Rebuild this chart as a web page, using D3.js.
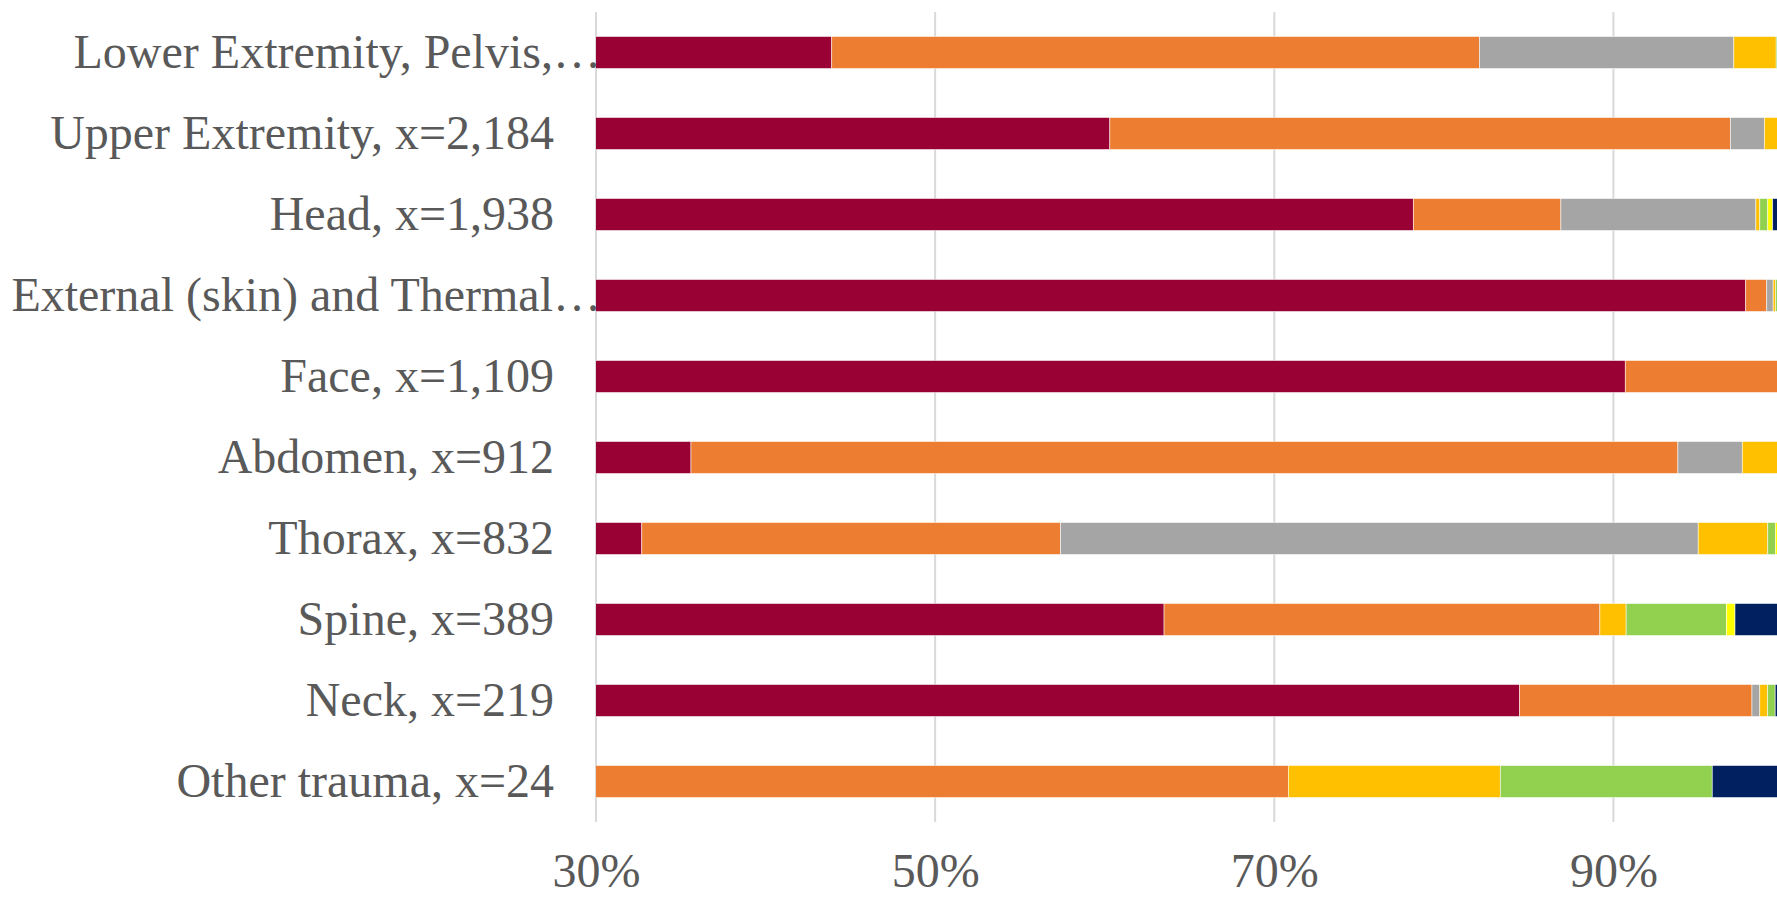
<!DOCTYPE html>
<html>
<head>
<meta charset="utf-8">
<script src="https://cdn.jsdelivr.net/npm/d3@7"></script>
<style>
  html, body { margin: 0; padding: 0; background: #fff; overflow: hidden; }
  svg { display: block; }
</style>
</head>
<body>
<svg id="chart" width="1777" height="898"></svg>
<script>
// ---- Data (percent shares per body region, stacked left to right) ----
const categories = [
  "Lower Extremity, Pelvis,\u2026",
  "Upper Extremity, x=2,184",
  "Head, x=1,938",
  "External (skin) and Thermal\u2026",
  "Face, x=1,109",
  "Abdomen, x=912",
  "Thorax, x=832",
  "Spine, x=389",
  "Neck, x=219",
  "Other trauma, x=24"
];
const seriesNames = ["Level 1", "Level 2", "Level 3", "Level 4", "Level 5", "Level 6", "Level 7"];
const level1 = [43.9, 60.3, 78.2, 97.8, 90.7, 35.6, 32.7, 63.5, 84.47, 0];
const level2 = [38.2, 36.6, 8.7, 1.24, 9.0, 58.2, 24.7, 25.7, 13.7, 70.83];
const level3 = [15.0, 2.0, 11.5, 0.38, 0.1, 3.8, 37.6, 0, 0.46, 0];
const level4 = [2.5, 0.9, 0.23, 0.15, 0.1, 2.1, 4.1, 1.55, 0.46, 12.5];
const level5 = [0.2, 0.1, 0.47, 0.25, 0.05, 0.2, 0.45, 5.91, 0.45, 12.5];
const level6 = [0.1, 0.05, 0.29, 0.08, 0.0, 0.05, 0.25, 0.51, 0, 0];
const level7 = [0.1, 0.05, 0.61, 0.1, 0.05, 0.05, 0.2, 2.83, 0.46, 4.17];
const tickValues = [30, 50, 70, 90];
const colors = ["#990033", "#ED7D31", "#A5A5A5", "#FFC000", "#92D050", "#FFFF00", "#002060"];

const seriesValues = [level1, level2, level3, level4, level5, level6, level7];
const table = categories.map((c, i) => {
  const row = { category: c };
  seriesNames.forEach((s, k) => { row[s] = seriesValues[k][i]; });
  return row;
});

// ---- Layout ----
const svg = d3.select("#chart");
const plotLeft = 596, plotRight = 1783, plotTop = 12, plotBottom = 822;

const x = d3.scaleLinear().domain([30, 100]).range([plotLeft, plotRight]);
const y = d3.scaleBand().domain(categories).range([plotTop, plotBottom])
  .paddingInner(0.605).paddingOuter(0.3025);

svg.append("defs").append("clipPath").attr("id", "plotClip")
  .append("rect").attr("x", plotLeft).attr("y", 0)
  .attr("width", plotRight - plotLeft).attr("height", 898);

// gridlines
svg.append("g").selectAll("line").data(tickValues).join("line")
  .attr("x1", d => x(d)).attr("x2", d => x(d))
  .attr("y1", plotTop).attr("y2", plotBottom)
  .attr("stroke", "#d9d9d9").attr("stroke-width", 2);

// stacked bars
const stack = d3.stack().keys(seriesNames);
const stacked = stack(table);
const gBars = svg.append("g").attr("clip-path", "url(#plotClip)");
stacked.forEach((layer, k) => {
  gBars.append("g").attr("fill", colors[k])
    .selectAll("rect").data(layer).join("rect")
    .attr("x", d => x(d[0]))
    .attr("width", d => Math.max(0, x(d[1]) - x(d[0])))
    .attr("y", d => y(d.data.category))
    .attr("height", y.bandwidth())
    .attr("stroke", "#ffffff").attr("stroke-width", 0.75).attr("stroke-opacity", 0.7);
});

// category labels
svg.append("g").selectAll("text").data(categories).join("text")
  .attr("x", d => d.endsWith("\u2026") ? 601 : 554)
  .attr("y", d => y(d) + y.bandwidth() / 2)
  .attr("dy", "0.33em")
  .attr("text-anchor", "end")
  .attr("font-family", "'Liberation Serif', 'Times New Roman', serif")
  .attr("font-size", 48)
  .attr("fill", "#595959")
  .text(d => d);

// x axis tick labels
const xAxis = d3.axisBottom(x).tickValues(tickValues).tickFormat(d => d + "%").tickSize(0).tickPadding(0);
const gx = svg.append("g").attr("transform", `translate(0, ${plotBottom})`).call(xAxis);
gx.select(".domain").remove();
gx.selectAll("text")
  .attr("y", 65).attr("dy", 0)
  .attr("font-family", "'Liberation Serif', 'Times New Roman', serif")
  .attr("font-size", 48)
  .attr("fill", "#595959");
</script>
</body>
</html>
